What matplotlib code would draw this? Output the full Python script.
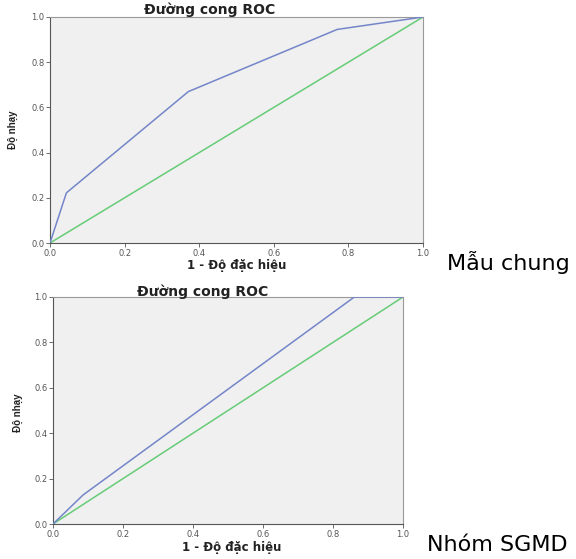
import numpy as np
import matplotlib
matplotlib.use('Agg')
import matplotlib.pyplot as plt

# ROC points
fpr_chung = [0.0, 0.044, 0.371, 0.770, 1.0]
tpr_chung = [0.0, 0.222, 0.670, 0.945, 1.0]

fpr_sgmd = [0.0, 0.086, 0.861, 1.0]
tpr_sgmd = [0.0, 0.128, 1.0, 1.0]

ticks = [0.0, 0.2, 0.4, 0.6, 0.8, 1.0]
tick_labels = ['0.0', '0.2', '0.4', '0.6', '0.8', '1.0']

W, H = 576, 559
fig = plt.figure(figsize=(W / 100, H / 100), dpi=100)
fig.patch.set_facecolor('white')

roc_color = '#7486c9'
ref_color = '#66cc77'


def px_axes(x0, y0, x1, y1):
    # pixel box (top-left origin) -> figure fraction
    return fig.add_axes([x0 / W, 1 - y1 / H, (x1 - x0) / W, (y1 - y0) / H])


def roc_panel(ax, fpr, tpr):
    ax.set_facecolor('#f0f0f0')
    ax.plot([0, 1], [0, 1], color=ref_color, lw=1.1, zorder=2)
    ax.plot(fpr, tpr, color=roc_color, lw=1.1, zorder=3)
    ax.set_xlim(0, 1)
    ax.set_ylim(0, 1)
    ax.set_xticks(ticks)
    ax.set_xticklabels(tick_labels)
    ax.set_yticks(ticks)
    ax.set_yticklabels(tick_labels)
    ax.tick_params(labelsize=6, labelcolor='#555555', length=3, width=0.6,
                   color='#555555', pad=1)
    for s in ['top', 'right']:
        ax.spines[s].set_color('#999999')
        ax.spines[s].set_linewidth(0.8)
    for s in ['left', 'bottom']:
        ax.spines[s].set_color('#555555')
        ax.spines[s].set_linewidth(0.8)


ax1 = px_axes(50, 17, 423, 243)
roc_panel(ax1, fpr_chung, tpr_chung)
ax2 = px_axes(53, 297, 403, 524)
roc_panel(ax2, fpr_sgmd, tpr_sgmd)

title_kw = dict(fontsize=10, fontweight='bold', color='#222222',
                family='DejaVu Sans', ha='center', va='center')
fig.text(210 / W, 1 - 10 / H, 'Đường cong ROC', **title_kw)
fig.text(203 / W, 1 - 292 / H, 'Đường cong ROC', **title_kw)

xl_kw = dict(fontsize=8.5, fontweight='bold', color='#222222',
             family='DejaVu Sans', ha='center', va='center')
fig.text(237 / W, 1 - 266 / H, '1 - Độ đặc hiệu', **xl_kw)
fig.text(232 / W, 1 - 547 / H, '1 - Độ đặc hiệu', **xl_kw)

yl_kw = dict(fontsize=7, fontweight='bold', color='#222222',
             family='Liberation Sans', ha='center', va='center', rotation=90)
fig.text(13 / W, 1 - 130 / H, 'Độ nhạy', **yl_kw)
fig.text(18 / W, 1 - 413 / H, 'Độ nhạy', **yl_kw)

side_kw = dict(fontsize=16, color='black', family='DejaVu Sans',
               ha='left', va='center')
fig.text(447 / W, 1 - 263 / H, 'Mẫu chung', **side_kw)
fig.text(427 / W, 1 - 545 / H, 'Nhóm SGMD', **side_kw)

fig.savefig('out.png', dpi=100)
